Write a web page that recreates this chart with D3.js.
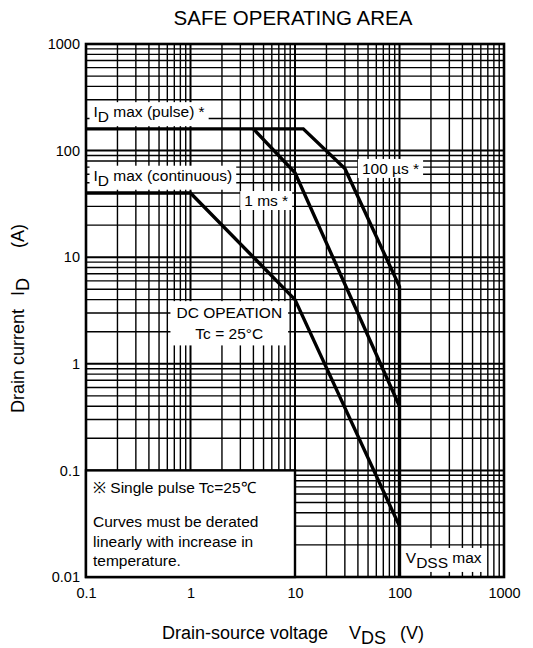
<!DOCTYPE html>
<html>
<head>
<meta charset="utf-8">
<script src="https://cdn.jsdelivr.net/npm/d3@7"></script>
<style>
  body { margin: 0; background: #fff; }
  text { font-family: "Liberation Sans", Arial, sans-serif; fill: #000; }
</style>
</head>
<body>
<div id="chart"></div>
<script>
// axis ticks
const X_TICKS = [0.1, 1, 10, 100, 1000];
const Y_TICKS = [0.01, 0.1, 1, 10, 100, 1000];

// curves [Vds, Id]
const PULSE_100US = [[0.1, 160], [12, 160], [30, 68], [100, 5.3], [100, 0.01]];
const PULSE_1MS = [[4, 160], [10, 62], [100, 0.4]];
const DC_OPERATION = [[0.1, 40], [1, 40], [10, 4], [100, 0.03]];

const margin = { top: 44, right: 29, bottom: 71, left: 86 };
const width = 533 - margin.left - margin.right;
const height = 648 - margin.top - margin.bottom;
const FS = 15.5;

const svg = d3.select("#chart").append("svg")
    .attr("width", 533)
    .attr("height", 648);

const g = svg.append("g")
    .attr("transform", "translate(" + margin.left + "," + margin.top + ")");

const x = d3.scaleLog().domain([0.1, 1000]).range([0, width]);
const y = d3.scaleLog().domain([0.01, 1000]).range([height, 0]);

// minor grid 1..9 per decade
let xGrid = [], yGrid = [];
for (let e = -1; e < 3; e++) for (let k = 1; k < 10; k++) xGrid.push(k * Math.pow(10, e));
for (let e = -2; e < 3; e++) for (let k = 1; k < 10; k++) yGrid.push(k * Math.pow(10, e));

g.selectAll(".vgrid").data(xGrid).join("line")
    .attr("x1", d => x(d)).attr("x2", d => x(d))
    .attr("y1", 0).attr("y2", height)
    .attr("stroke", "#000").attr("stroke-width", d => X_TICKS.includes(d) ? 2 : 1.4);

g.selectAll(".hgrid").data(yGrid).join("line")
    .attr("x1", 0).attr("x2", width)
    .attr("y1", d => y(d)).attr("y2", d => y(d))
    .attr("stroke", "#000").attr("stroke-width", d => Y_TICKS.includes(d) ? 2 : 1.4);

// curves
const line = d3.line().x(d => x(d[0])).y(d => y(d[1]));
[PULSE_100US, PULSE_1MS, DC_OPERATION].forEach(c => {
    g.append("path").datum(c)
        .attr("fill", "none")
        .attr("stroke", "#000")
        .attr("stroke-width", 3.4)
        .attr("d", line);
});

// frame
g.append("rect").attr("x", 0).attr("y", 0)
    .attr("width", width).attr("height", height)
    .attr("fill", "none").attr("stroke", "#000").attr("stroke-width", 2.6);

// axis labels via d3 axes (no tick lines)
const xAxis = g.append("g")
    .attr("transform", "translate(0," + height + ")")
    .call(d3.axisBottom(x).tickValues(X_TICKS).tickFormat(d => String(d)).tickSize(0).tickPadding(11));
const yAxis = g.append("g")
    .call(d3.axisLeft(y).tickValues(Y_TICKS).tickFormat(d => String(d)).tickSize(0).tickPadding(6));
[xAxis, yAxis].forEach(a => {
    a.select(".domain").remove();
    a.selectAll("text").attr("font-size", 14.5).attr("font-family", "Liberation Sans, Arial, sans-serif");
});

// white label helper
function label(parts, cx, cy, anchor, size) {
    const t = g.append("text")
        .attr("x", cx).attr("y", cy)
        .attr("text-anchor", anchor)
        .attr("dominant-baseline", "middle")
        .attr("font-size", size);
    parts.forEach(p => {
        const s = t.append("tspan").text(p[0]);
        if (p[1]) s.attr("baseline-shift", p[1]).attr("font-size", size);
    });
    const bb = t.node().getBBox();
    g.insert("rect", () => t.node())
        .attr("x", bb.x - 4).attr("y", bb.y - 1)
        .attr("width", bb.width + 8).attr("height", bb.height + 2)
        .attr("fill", "#fff");
    return t;
}

label([["I"], ["D", "-5"], [" max (pulse) *"]], x(0.118), y(225), "start", FS);
label([["I"], ["D", "-5"], [" max (continuous)"]], x(0.118), y(57), "start", FS);
label([["1 ms *"]], x(5.3), y(33), "middle", FS);
label([["100 \u00b5s *"]], x(82), y(66), "middle", FS);

// DC operation two-line label
const dcBox = g.append("rect").attr("fill", "#fff");
const dc1 = g.append("text").attr("x", x(2.35)).attr("y", y(2.93))
    .attr("text-anchor", "middle").attr("dominant-baseline", "middle")
    .attr("font-size", FS).text("DC OPEATION");
const dc2 = g.append("text").attr("x", x(2.35)).attr("y", y(1.85))
    .attr("text-anchor", "middle").attr("dominant-baseline", "middle")
    .attr("font-size", FS).text("Tc = 25\u00b0C");
const b1 = dc1.node().getBBox(), b2 = dc2.node().getBBox();
dcBox.attr("x", b1.x - 6).attr("y", b1.y - 3)
    .attr("width", b1.width + 12).attr("height", b2.y + b2.height - b1.y + 6);

label([["V"], ["DSS", "-5"], [" max"]], x(265), y(0.0148), "middle", FS);

// note box
g.append("rect")
    .attr("x", x(0.1)).attr("y", y(0.1))
    .attr("width", x(10) - x(0.1)).attr("height", y(0.01) - y(0.1))
    .attr("fill", "#fff").attr("stroke", "#000").attr("stroke-width", 2.4);
const notes = ["\u203b  Single pulse Tc=25\u2103", "Curves must be derated",
    "linearly with increase in", "temperature."];
const noteY = [0.067, 0.032, 0.0208, 0.0138];
notes.forEach((n, i) => {
    g.append("text").attr("x", x(0.1) + 7).attr("y", y(noteY[i]))
        .attr("dominant-baseline", "middle")
        .attr("font-size", FS).text(n);
});

// title
svg.append("text").attr("x", 293).attr("y", 25)
    .attr("text-anchor", "middle").attr("font-size", 20.5)
    .text("SAFE OPERATING AREA");

// x axis title
const xt = svg.append("text").attr("x", 162).attr("y", 639)
    .attr("font-size", 18);
xt.append("tspan").text("Drain-source voltage");
xt.append("tspan").attr("dx", 21).text("V");
xt.append("tspan").attr("baseline-shift", "-5").text("DS");
xt.append("tspan").attr("dx", 14).text("(V)");

// y axis title
const yt = svg.append("text")
    .attr("transform", "translate(24,413) rotate(-90)")
    .attr("font-size", 18);
yt.append("tspan").text("Drain current");
yt.append("tspan").attr("dx", 13).text("I");
yt.append("tspan").attr("baseline-shift", "-5").text("D");
yt.append("tspan").attr("dx", 30).text("(A)");
</script>
</body>
</html>
